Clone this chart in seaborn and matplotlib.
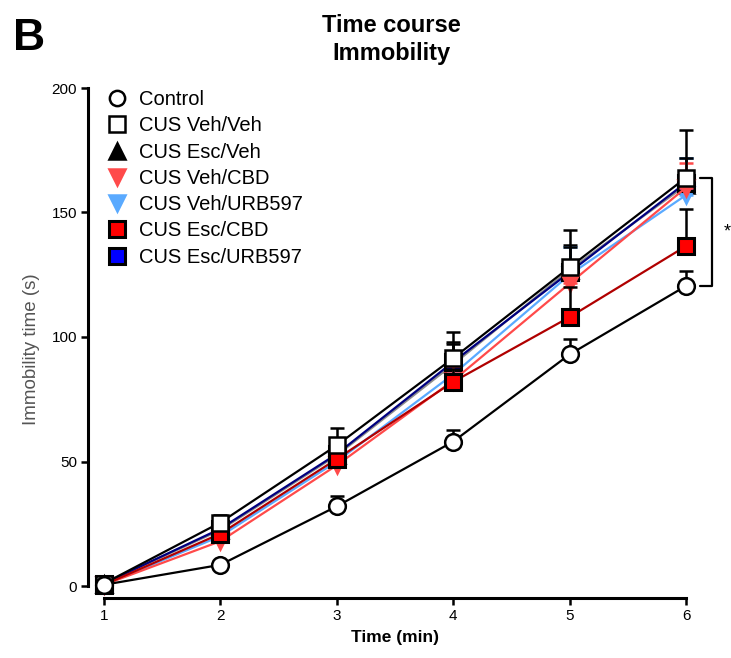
import numpy as np
import pandas as pd
import matplotlib
matplotlib.use("Agg")
import matplotlib.pyplot as plt
from matplotlib.lines import Line2D
import seaborn as sns

sns.set_theme(style="ticks")
plt.rcParams["font.family"] = ["Liberation Sans", "DejaVu Sans"]
plt.rcParams.update({"text.color": "black", "axes.labelcolor": "black",
                     "xtick.color": "black", "ytick.color": "black"})

# Time points (min)
minutes = [1, 2, 3, 4, 5, 6]

# Cumulative immobility (s), mean and SEM per group
groups = ["Control", "CUS Veh/Veh", "CUS Esc/Veh", "CUS Veh/CBD",
          "CUS Veh/URB597", "CUS Esc/CBD", "CUS Esc/URB597"]

control_mean = [0.5, 8.5, 32, 58, 93, 120.5]
control_sem = [1, 1.5, 4, 4.5, 6, 6]
vehveh_mean = [1, 25.5, 56.5, 91.5, 128, 164]
vehveh_sem = [1.5, 3, 7, 10.5, 15, 19]
escveh_mean = [1, 22.5, 52.5, 89, 127, 161]
escveh_sem = [1, 2.5, 5, 8, 10, 11]
vehcbd_mean = [0.5, 18, 48.5, 82.5, 121.5, 160]
vehcbd_sem = [1, 2.5, 4, 6, 9, 10]
vehurb_mean = [0.5, 20, 50, 85, 125, 157]
vehurb_sem = [1, 2.5, 4.5, 7, 11, 15]
esccbd_mean = [0.5, 21, 51, 82, 108, 136.5]
esccbd_sem = [1, 2, 4, 5, 12, 15]
escurb_mean = [1, 23, 53, 90, 126, 162]
escurb_sem = [1, 2.5, 5, 8, 10, 10]

means = [control_mean, vehveh_mean, escveh_mean, vehcbd_mean,
         vehurb_mean, esccbd_mean, escurb_mean]
sems = [control_sem, vehveh_sem, escveh_sem, vehcbd_sem,
        vehurb_sem, esccbd_sem, escurb_sem]

# Styling per group: line colour, marker, face colour, edge colour
styles = {
    "Control":        dict(line="#000000", marker="o", face="white",   edge="#000000"),
    "CUS Veh/Veh":    dict(line="#000000", marker="s", face="white",   edge="#000000"),
    "CUS Esc/Veh":    dict(line="#8c8c8c", marker="^", face="#000000", edge="#000000"),
    "CUS Veh/CBD":    dict(line="#ff4a4a", marker="v", face="#ff4a4a", edge="#ff4a4a"),
    "CUS Veh/URB597": dict(line="#5aaaff", marker="v", face="#5aaaff", edge="#5aaaff"),
    "CUS Esc/CBD":    dict(line="#b00000", marker="s", face="#ff0000", edge="#000000"),
    "CUS Esc/URB597": dict(line="#000080", marker="s", face="#0000ff", edge="#000000"),
}

rows = []
for g, m, s in zip(groups, means, sems):
    for t, v, e in zip(minutes, m, s):
        rows.append(dict(group=g, minute=t, immobility=v, sem=e))
df = pd.DataFrame(rows)

fig = plt.figure(figsize=(7.31, 6.58), dpi=100)
ax = fig.add_axes([104 / 731, 72 / 658, 582 / 731, 498 / 658])

# draw order: coloured groups first, open-marker groups on top
order = ["CUS Esc/Veh", "CUS Veh/URB597", "CUS Esc/URB597", "CUS Veh/CBD",
         "CUS Esc/CBD", "CUS Veh/Veh", "Control"]
for z, g in enumerate(order):
    st = styles[g]
    sub = df[df.group == g]
    ax.errorbar(sub.minute, sub.immobility,
                yerr=[np.zeros(len(sub)), sub["sem"].values],
                fmt="none", ecolor=st["edge"] if st["face"] != "white" else "#000000",
                elinewidth=1.8, capsize=5, capthick=1.8, clip_on=False,
                zorder=2 + z)
    mew = 2.2 if g in ("CUS Esc/CBD", "CUS Esc/URB597") else 1.8
    sns.lineplot(data=sub, x="minute", y="immobility", ax=ax,
                 color=st["line"], linewidth=1.6, marker=st["marker"],
                 markersize=12, markerfacecolor=st["face"],
                 markeredgecolor=st["edge"], markeredgewidth=mew,
                 errorbar=None, legend=False, clip_on=False, zorder=3 + z)

ax.set_xlim(1, 6)
ax.set_ylim(0, 200)
ax.set_xticks(minutes)
ax.set_yticks([0, 50, 100, 150, 200])
ax.set_xticklabels([str(t) for t in minutes], fontweight="bold", fontsize=8.5)
ax.set_yticklabels(["0", "50", "100", "150", "200"], fontweight="bold", fontsize=8.5)
ax.tick_params(axis="both", direction="out", length=5, width=1.8, color="black", pad=3)

sns.despine(ax=ax)
ax.spines["left"].set_position(("outward", 11.5))
ax.spines["bottom"].set_position(("outward", 8.5))
ax.spines["left"].set_bounds(0, 200)
ax.spines["bottom"].set_bounds(1, 6)
for sp in ("left", "bottom"):
    ax.spines[sp].set_linewidth(2.2)
    ax.spines[sp].set_color("black")

ax.set_xlabel("Time (min)", fontweight="bold", fontsize=12.5, labelpad=5)
ax.set_ylabel("Immobility time (s)", fontsize=13.5, color="#555555")
ax.yaxis.set_label_coords(-0.11, 0.475)

# significance bracket between Veh/Veh and Control at 6 min
bx0, bx1 = 6.12, 6.22
ax.plot([bx0, bx1, bx1, bx0], [vehveh_mean[-1], vehveh_mean[-1],
                              control_mean[-1], control_mean[-1]],
        color="black", linewidth=1.6, clip_on=False)
ax.text(6.355, (vehveh_mean[-1] + control_mean[-1]) / 2, "*",
        fontsize=13, ha="center", va="center", clip_on=False)

# legend
handles = []
for g in groups:
    st = styles[g]
    mew = 2.2 if g in ("CUS Esc/CBD", "CUS Esc/URB597") else 1.8
    handles.append(Line2D([], [], linestyle="none", marker=st["marker"],
                          markersize=11, markerfacecolor=st["face"],
                          markeredgecolor=st["edge"], markeredgewidth=mew))
leg = ax.legend(handles, groups, loc="upper left",
                bbox_to_anchor=(-0.008, 1.012), frameon=False,
                fontsize=14.5, handlelength=1.0, handletextpad=0.55,
                labelspacing=0.36, borderaxespad=0.0)

fig.text(0.535, 0.978, "Time course\nImmobility", ha="center", va="top",
         fontsize=17, fontweight="bold", linespacing=1.25)
fig.text(0.018, 0.972, "B", ha="left", va="top", fontsize=32, fontweight="bold")

fig.savefig("out.png", dpi=100)
